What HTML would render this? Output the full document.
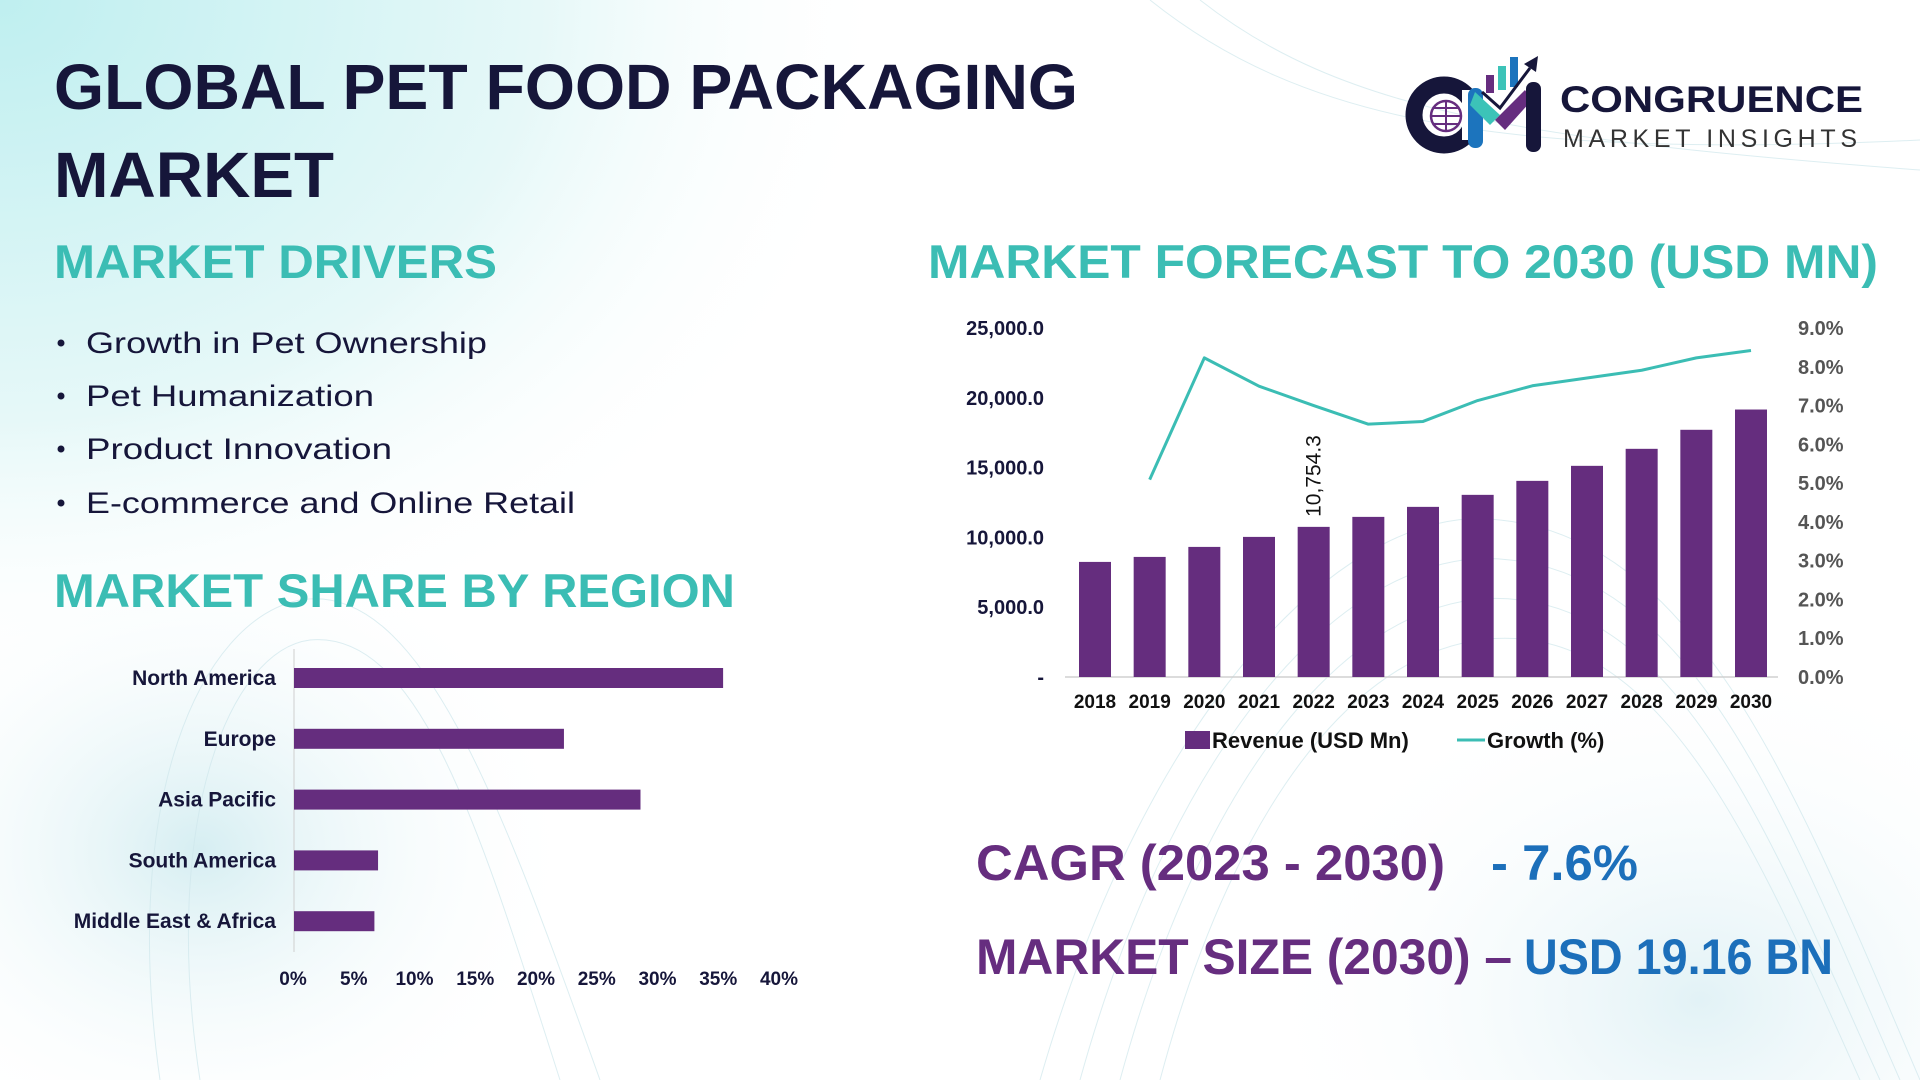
<!DOCTYPE html>
<html><head><meta charset="utf-8"><style>
html,body{margin:0;padding:0;width:1920px;height:1080px;overflow:hidden;background:#fff}
svg{display:block;font-family:"Liberation Sans",Arial,sans-serif}
</style></head><body>
<svg id="root" width="1920" height="1080" viewBox="0 0 1920 1080">
<defs>
<radialGradient id="bgTL" cx="0" cy="0" r="1" gradientUnits="userSpaceOnUse" gradientTransform="translate(0 0) scale(900 700)">
<stop offset="0" stop-color="#bfeff0"/><stop offset="0.6" stop-color="#e6f8f8"/><stop offset="1" stop-color="#ffffff" stop-opacity="0"/></radialGradient>
<radialGradient id="bgBL" cx="0" cy="0" r="1" gradientUnits="userSpaceOnUse" gradientTransform="translate(200 850) scale(380 320)">
<stop offset="0" stop-color="#d6eef2"/><stop offset="1" stop-color="#ffffff" stop-opacity="0"/></radialGradient>
<radialGradient id="bgBR" cx="0" cy="0" r="1" gradientUnits="userSpaceOnUse" gradientTransform="translate(1700 1000) scale(450 350)">
<stop offset="0" stop-color="#e2f2f6"/><stop offset="1" stop-color="#ffffff" stop-opacity="0"/></radialGradient>
</defs>
<rect width="1920" height="1080" fill="#fff"/>
<rect width="1920" height="1080" fill="url(#bgTL)"/>
<rect width="1920" height="1080" fill="url(#bgBL)"/>
<rect width="1920" height="1080" fill="url(#bgBR)"/>
<g fill="none" stroke="#cfe7ec" stroke-width="1" opacity="0.7">
<path d="M1040 1080 C1150 700 1350 500 1500 520 C1700 540 1800 800 1920 1080"/>
<path d="M1080 1080 C1180 720 1360 540 1510 560 C1700 580 1790 830 1900 1080"/>
<path d="M1120 1080 C1210 750 1370 580 1520 600 C1690 620 1780 860 1880 1080"/>
<path d="M1160 1080 C1240 780 1380 620 1530 640 C1680 660 1770 880 1860 1080"/>
<path d="M160 1080 C120 800 200 620 300 600 C420 580 500 800 600 1080"/>
<path d="M200 1080 C160 820 230 650 310 640 C420 630 480 830 560 1080"/>
<path d="M1150 0 C1300 120 1500 160 1920 140"/>
<path d="M1200 0 C1340 110 1520 140 1920 170"/>
</g>

<text x="54" y="109" font-size="64" font-weight="700" fill="#16163a" textLength="1024" lengthAdjust="spacingAndGlyphs">GLOBAL PET FOOD PACKAGING</text>
<text x="54" y="197" font-size="64" font-weight="700" fill="#16163a" textLength="280" lengthAdjust="spacingAndGlyphs">MARKET</text>

<g>
<circle cx="1444" cy="115" r="30" fill="none" stroke="#16163a" stroke-width="17"/>
<rect x="1462" y="90" width="18" height="50" fill="#fff"/>
<circle cx="1446" cy="116" r="15" fill="none" stroke="#662d7f" stroke-width="2.5"/>
<path d="M1431 116 H1461 M1446 101 V131 M1433 108 H1459 M1433 124 H1459" stroke="#662d7f" stroke-width="2"/>
<rect x="1468" y="88" width="15" height="60" rx="7" fill="#1c74bd"/>
<path d="M1475 92 L1500 115 L1490 125 L1470 105Z" fill="#3cc3b8"/>
<path d="M1495 120 L1525 90 L1532 100 L1505 130Z" fill="#662d7f"/>
<rect x="1526" y="82" width="15" height="70" rx="7" fill="#16163a"/>
<rect x="1486" y="75" width="8" height="18" fill="#662d7f"/>
<rect x="1498" y="66" width="8" height="24" fill="#3cc3b8"/>
<rect x="1510" y="57" width="8" height="30" fill="#1c74bd"/>
<path d="M1482 92 L1500 108 L1530 68" fill="none" stroke="#16163a" stroke-width="3"/>
<path d="M1524 64 L1538 56 L1536 72Z" fill="#16163a"/>
<text x="1560" y="112" font-size="37" font-weight="700" fill="#16163a" textLength="303" lengthAdjust="spacingAndGlyphs">CONGRUENCE</text>
<text x="1563" y="147" font-size="25" fill="#333" textLength="294" lengthAdjust="spacing">MARKET INSIGHTS</text>
</g>

<text x="54" y="278" font-size="47" font-weight="700" fill="#3bbdb4" textLength="443" lengthAdjust="spacingAndGlyphs">MARKET DRIVERS</text>
<g font-size="30" fill="#16163a">
<circle cx="61" cy="343" r="3.5"/><text x="86" y="353" textLength="401" lengthAdjust="spacingAndGlyphs">Growth in Pet Ownership</text>
<circle cx="61" cy="396" r="3.5"/><text x="86" y="406" textLength="288" lengthAdjust="spacingAndGlyphs">Pet Humanization</text>
<circle cx="61" cy="449" r="3.5"/><text x="86" y="459" textLength="306" lengthAdjust="spacingAndGlyphs">Product Innovation</text>
<circle cx="61" cy="503" r="3.5"/><text x="86" y="513" textLength="489" lengthAdjust="spacingAndGlyphs">E-commerce and Online Retail</text>
</g>

<text x="54" y="607" font-size="47" font-weight="700" fill="#3bbdb4" textLength="681" lengthAdjust="spacingAndGlyphs">MARKET SHARE BY REGION</text>
<text x="928" y="278" font-size="47" font-weight="700" fill="#3bbdb4" textLength="950" lengthAdjust="spacingAndGlyphs">MARKET FORECAST TO 2030 (USD MN)</text>

<g id="regionChart"></g>
<g id="forecastChart"></g>

<text x="976" y="880" font-size="50" font-weight="700" fill="#662d7f" textLength="469" lengthAdjust="spacingAndGlyphs">CAGR (2023 - 2030)</text>
<text x="1491" y="880" font-size="50" font-weight="700" fill="#1c6fba" textLength="147" lengthAdjust="spacingAndGlyphs">- 7.6%</text>
<text x="976" y="974" font-size="50" font-weight="700" fill="#662d7f" textLength="536" lengthAdjust="spacingAndGlyphs">MARKET SIZE (2030) –</text>
<text x="1524" y="974" font-size="50" font-weight="700" fill="#1c6fba" textLength="309" lengthAdjust="spacingAndGlyphs">USD 19.16 BN</text>
</svg>
<script>
const NS="http://www.w3.org/2000/svg";
function mk(tag,attrs,parent){const e=document.createElementNS(NS,tag);for(const k in attrs)e.setAttribute(k,attrs[k]);parent.appendChild(e);return e;}

const regions=["North America","Europe","Asia Pacific","South America","Middle East & Africa"];
const regionShares=[35.4,22.3,28.6,7.0,6.7];
const shareTicks=[0,5,10,15,20,25,30,35,40];

const years=["2018","2019","2020","2021","2022","2023","2024","2025","2026","2027","2028","2029","2030"];
const revenue=[8244,8602,9319,10036,10754.3,11470,12187,13048,14050,15126,16345,17708,19160];
const growth=[null,5.09,8.23,7.5,7.0,6.52,6.59,7.13,7.51,7.71,7.91,8.23,8.42];
const revTicks=[0,5000,10000,15000,20000,25000];
const revTickLabels=["-","5,000.0","10,000.0","15,000.0","20,000.0","25,000.0"];
const growthTicks=[0,1,2,3,4,5,6,7,8,9];

(function(){
  const g=document.getElementById('regionChart');
  const x0=293,pxPer=(779-293)/40;
  const sx=v=>x0+v*pxPer;
  const line=mk('line',{x1:294,y1:649,x2:294,y2:952,stroke:'#cfcfcf','stroke-width':1},g);
  
  
  const top=678,step=60.8;
  regions.forEach((r,i)=>{
    const cy=top+i*step;
    const b=mk('rect',{x:sx(0)+1,y:cy-10,width:sx(regionShares[i])-sx(0)-1,height:20,fill:'#652d7e'},g);
    
    
    const t=mk('text',{x:276,y:cy+7,'text-anchor':'end','font-size':21,'font-weight':700,fill:'#16163a'},g);
    t.textContent=r;
    
    
  });
  shareTicks.forEach(v=>{
    const t=mk('text',{x:sx(v),y:985,'text-anchor':'middle','font-size':19,'font-weight':700,fill:'#16163a'},g);
    t.textContent=v+'%';
    
    
  });
})();

(function(){
  const g=document.getElementById('forecastChart');
  const base=677,topY=328;
  const sy=v=>base-v/25000*(base-topY);
  const sg=v=>base-v/9*(base-topY);
  const xFirst=1095,xStep=(1751-1095)/12;
  const sx=i=>xFirst+i*xStep;
  const ax=mk('line',{x1:1065,y1:base,x2:1778,y2:base,stroke:'#d0d0d0','stroke-width':1.5},g);
  
  
  revTicks.forEach((v,i)=>{
    const t=mk('text',{x:1044,y:sy(v)+7,'text-anchor':'end','font-size':20,'font-weight':700,fill:'#16163a'},g);
    t.textContent=revTickLabels[i];
    
    
  });
  growthTicks.forEach(v=>{
    const t=mk('text',{x:1798,y:sg(v)+7,'font-size':20,'font-weight':700,fill:'#555'},g);
    t.textContent=v.toFixed(1)+'%';
    
    
  });
  years.forEach((y,i)=>{
    const b=mk('rect',{x:sx(i)-16,y:sy(revenue[i]),width:32,height:base-sy(revenue[i]),fill:'#652d7e'},g);
    
    
    const t=mk('text',{x:sx(i),y:708,'text-anchor':'middle','font-size':19,'font-weight':700,fill:'#111'},g);
    t.textContent=y;
    
    
  });
  const li=4, lx=sx(li)+7, ly=sy(revenue[li])-10;
  const dl=mk('text',{x:lx,y:ly,'font-size':21,fill:'#111',transform:'rotate(-90 '+lx+' '+ly+')'},g);
  dl.textContent=revenue[li].toLocaleString('en-US',{minimumFractionDigits:1,maximumFractionDigits:1});
  
  
  let d='';
  growth.forEach((v,i)=>{if(v==null)return;d+=(d?'L':'M')+sx(i)+' '+sg(v)+' ';});
  const p=mk('path',{d:d,fill:'none',stroke:'#3bbdb4','stroke-width':3,'stroke-linejoin':'round'},g);
  
  
  const lg=mk('g',{},g);
  
  
  const s1=mk('rect',{x:1185,y:731,width:25,height:18,fill:'#652d7e'},lg);
  
  
  const t1=mk('text',{x:1212,y:748,'font-size':22,'font-weight':700,fill:'#111'},lg);
  t1.textContent='Revenue (USD Mn)';
  
  
  const s2=mk('line',{x1:1457,y1:740,x2:1485,y2:740,stroke:'#3bbdb4','stroke-width':3},lg);
  
  
  const t2=mk('text',{x:1487,y:748,'font-size':22,'font-weight':700,fill:'#111'},lg);
  t2.textContent='Growth (%)';
  
  
})();
</script>
</body></html>
